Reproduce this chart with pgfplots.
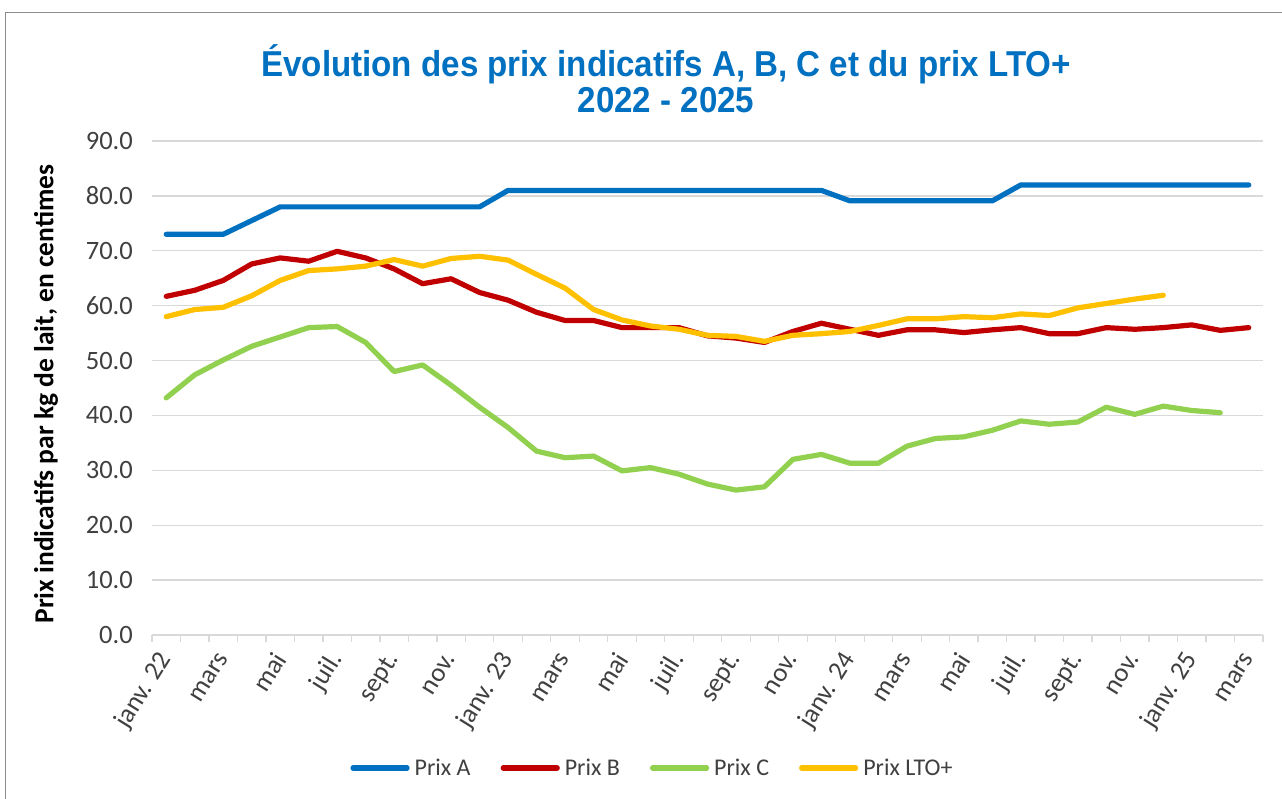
\documentclass[border=0pt]{standalone}
\usepackage{pgfplots}
\pgfplotsset{compat=1.18}
\usepackage{pgfplotstable}
\usepackage{fontspec}
\setmainfont{Carlito}
\newfontfamily\titlefont[FakeStretch=0.92]{Liberation Sans}
\definecolor{cA}{HTML}{0070C0}
\definecolor{cB}{HTML}{C00000}
\definecolor{cC}{HTML}{92D050}
\definecolor{cL}{HTML}{FFC000}
\definecolor{gridc}{HTML}{D9D9D9}
\definecolor{txt}{HTML}{404040}
\definecolor{frame}{HTML}{8C8C8C}

\pgfplotstableread{
i A B
0 73.0 61.7
1 73.0 62.8
2 73.0 64.6
3 75.5 67.6
4 78.0 68.7
5 78.0 68.1
6 78.0 69.9
7 78.0 68.7
8 78.0 66.7
9 78.0 64.0
10 78.0 64.9
11 78.0 62.4
12 81.0 61.0
13 81.0 58.8
14 81.0 57.3
15 81.0 57.3
16 81.0 56.0
17 81.0 56.0
18 81.0 56.0
19 81.0 54.5
20 81.0 54.1
21 81.0 53.3
22 81.0 55.3
23 81.0 56.8
24 79.1 55.7
25 79.1 54.6
26 79.1 55.6
27 79.1 55.6
28 79.1 55.1
29 79.1 55.6
30 82.0 56.0
31 82.0 54.9
32 82.0 54.9
33 82.0 56.0
34 82.0 55.7
35 82.0 56.0
36 82.0 56.5
37 82.0 55.5
38 82.0 56.0
}\tabAB

\pgfplotstableread{
i C
0 43.2
1 47.4
2 50.1
3 52.6
4 54.3
5 56.0
6 56.2
7 53.3
8 48.0
9 49.2
10 45.5
11 41.5
12 37.8
13 33.5
14 32.3
15 32.6
16 29.9
17 30.5
18 29.3
19 27.5
20 26.4
21 27.0
22 32.0
23 32.9
24 31.3
25 31.3
26 34.4
27 35.8
28 36.1
29 37.3
30 39.0
31 38.4
32 38.8
33 41.5
34 40.2
35 41.7
36 40.9
37 40.5
}\tabC

\pgfplotstableread{
i L
0 58.0
1 59.3
2 59.7
3 61.8
4 64.6
5 66.4
6 66.7
7 67.2
8 68.4
9 67.2
10 68.6
11 69.0
12 68.3
13 65.7
14 63.2
15 59.3
16 57.4
17 56.3
18 55.7
19 54.6
20 54.4
21 53.5
22 54.6
23 54.9
24 55.3
25 56.4
26 57.6
27 57.6
28 58.0
29 57.8
30 58.5
31 58.2
32 59.6
33 60.4
34 61.2
35 61.9
}\tabL

\begin{document}
\begin{tikzpicture}[x=1pt,y=1pt]
\useasboundingbox (0,0) rectangle (1282,798);
\fill[white] (0,0) rectangle (1282,798);
\draw[frame, line width=1.2pt] (5.5,-20) -- (5.5,785.5) -- (1300,785.5);
\node[font=\titlefont\fontsize{36}{42}\bfseries\selectfont, text=cA, align=center] at (666,734) {Évolution des prix indicatifs A, B, C et du prix LTO+};
\node[font=\titlefont\fontsize{36}{42}\bfseries\selectfont, text=cA, align=center] at (666,698) {2022 - 2025};
\node[rotate=90, font=\fontsize{27.5}{32}\bfseries\selectfont, text=black] at (46,404) {Prix indicatifs par kg de lait, en centimes};
\begin{axis}[
  at={(152pt,163pt)}, anchor=south west,
  scale only axis, width=1111pt, height=494pt,
  xmin=-0.5, xmax=38.5, ymin=0, ymax=90,
  ytick={0,10,...,90},
  xtick={0,2,...,38},
  xticklabels={janv. 22,mars,mai,juil.,sept.,nov.,janv. 23,mars,mai,juil.,sept.,nov.,janv. 24,mars,mai,juil.,sept.,nov.,janv. 25,mars},
  minor xtick={-0.5,0.5,...,38.5},
  axis x line*=bottom, axis y line*=left,
  x axis line style={draw=gridc, line width=1.3pt, -},
  y axis line style={draw=none},
  ymajorgrids, major grid style={draw=gridc, line width=1.3pt},
  major tick length=0pt, minor tick length=7pt, tick align=outside,
  minor tick style={draw=gridc, line width=1.3pt},
  ytick style={draw=none},
  tick label style={font=\fontsize{26.5}{30}\selectfont, text=txt},
  /pgf/number format/assume math mode=true,
  yticklabel={\pgfmathprintnumber[fixed, fixed zerofill, precision=1]{\tick}},
  yticklabel style={anchor=east, inner sep=0pt, xshift=-19pt},
  xticklabel style={yshift=-20pt, xshift=0pt, rotate=58, anchor=east, inner sep=0pt},
  clip=false,
  legend columns=4,
  legend style={at={(0.4505,-0.2692)}, anchor=center, draw=none, fill=none,
    font=\fontsize{24}{28}\selectfont, text=txt, inner sep=0pt,
    /tikz/every even column/.append style={column sep=28pt},
    /tikz/every odd column/.append style={column sep=3pt}},
  legend image code/.code={\draw[#1, line cap=round] (0pt,0pt) -- (54pt,0pt);},
  every axis plot/.append style={line width=5.2pt, line join=round, line cap=round},
]
\addplot[cA, mark=none] table[x=i, y=A] {\tabAB};
\addlegendentry{Prix A}
\addplot[cB, mark=none] table[x=i, y=B] {\tabAB};
\addlegendentry{Prix B}
\addplot[cC, mark=none] table[x=i, y=C] {\tabC};
\addlegendentry{Prix C}
\addplot[cL, mark=none] table[x=i, y=L] {\tabL};
\addlegendentry{Prix LTO+}
\end{axis}
\end{tikzpicture}
\end{document}
